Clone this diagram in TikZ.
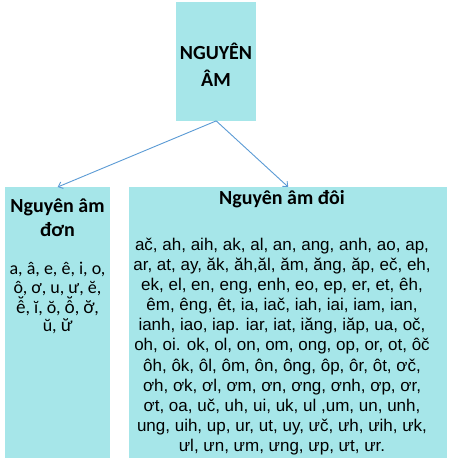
\documentclass[tikz,border=0pt]{standalone}
\usepackage{fontspec}
\setmainfont{Carlito}
\newfontfamily\arialf{Liberation Sans}
\newfontfamily\latof{Lato}
\usetikzlibrary{arrows.meta}
\definecolor{boxfill}{HTML}{A6E6E9}
\definecolor{arrowc}{HTML}{5B9BD5}
\begin{document}
\begin{tikzpicture}[x=1pt,y=-1pt,
  box/.style={fill=boxfill, draw=none, inner sep=0pt, anchor=north west},
  conn/.style={draw=arrowc, line width=0.9pt, -{Straight Barb[length=4pt,width=7pt]}},
  txt/.style={inner sep=0pt, align=center, text=black, anchor=base}]
\useasboundingbox (0,0) rectangle (453,462);
\fill[white] (0,0) rectangle (453,462);
\node[box, minimum width=80pt, minimum height=118.5pt] (root) at (176,2) {};
\node[box, minimum width=105pt, minimum height=271pt] (left) at (5,187) {};
\node[box, minimum width=318pt, minimum height=271pt] (right) at (129,187) {};
\node[txt, font=\bfseries\fontsize{20}{27}\selectfont] (roottxt) at (216,86.4) {NGUYÊN\\ÂM};
\node[txt, font=\bfseries\fontsize{20}{24}\selectfont] (lefttitle) at (57.5,236.7) {Nguyên âm\\đơn};
\node[txt, font=\fontsize{18}{18.5}\selectfont] (leftlist) at (57.5,331.7) {a, â, e, ê, i, o,\\ô, ơ, u, ư, ĕ,\\{\latof ê̆}, ĭ, ŏ, {\latof ô̆}, {\latof ơ̆},\\ŭ, {\latof ư̆}};
\node[txt, font=\bfseries\fontsize{20}{24}\selectfont] (righttitle) at (282,204.7) {Nguyên âm đôi};
\node[txt, font=\arialf\fontsize{17}{20.1}\selectfont] (rightlist) at (282,451.4) {ač, ah, aih, ak, al, an, ang, anh, ao, ap,\\ar, at, ay, ăk, ăh,ăl, ăm, ăng, ăp, eč, eh,\\ek, el, en, eng, enh, eo, ep, er, et, êh,\\êm, êng, êt, ia, iač, iah, iai, iam, ian,\\ianh, iao, iap. iar, iat, iăng, iăp, ua, oč,\\oh, oi. ok, ol, on, om, ong, op, or, ot, ôč\\ôh, ôk, ôl, ôm, ôn, ông, ôp, ôr, ôt, ơč,\\ơh, ơk, ơl, ơm, ơn, ơng, ơnh, ơp, ơr,\\ơt, oa, uč, uh, ui, uk, ul ,um, un, unh,\\ung, uih, up, ur, ut, uy, ưč, ưh, ưih, ưk,\\ưl, ưn, ưm, ưng, ưp, ưt, ưr.};
\draw[conn] (root.south) -- (left.north);
\draw[conn] (root.south) -- (right.north);
\end{tikzpicture}
\end{document}
